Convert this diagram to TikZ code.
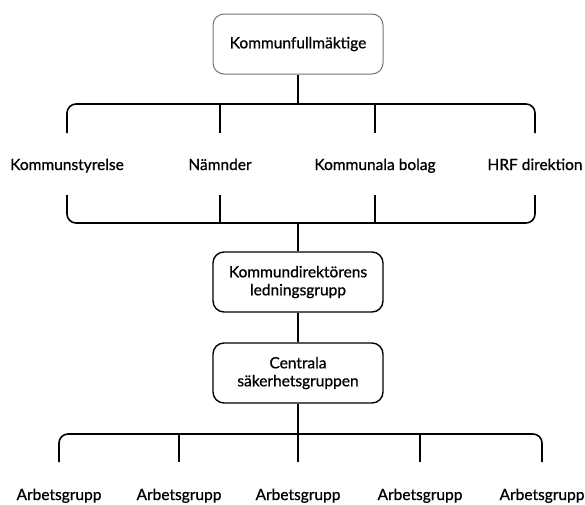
\documentclass[tikz,border=0pt]{standalone}
\usepackage{fontspec}
\setmainfont{Lato}[FakeBold=0.8,AutoFakeBold=0.8]

\begin{document}
\begin{tikzpicture}[x=1pt,y=-1pt,
        orgbox/.style={draw, line width=1.4pt, rounded corners=11pt, minimum width=170pt,
            minimum height=60pt, align=center, font=\fontsize{15.5}{18}\bfseries},
        orglabel/.style={inner sep=1pt, anchor=base, font=\fontsize{15.5}{18}\bfseries},
        bracket/.style={line width=1.6pt, rounded corners=9pt},
        link/.style={line width=1.6pt}]
    \useasboundingbox (0,0) rectangle (585,504);
    % boxes in the middle column
    \node[orgbox, draw=black!55, line width=1pt] (kf) at (298,44) {Kommunfullmäktige};
    \node[orgbox] (kl) at (298,282) {Kommundirektörens\\ledningsgrupp};
    \node[orgbox] (sg) at (298,373) {Centrala\\säkerhetsgruppen};
    % upper row
    \node[orglabel] (ks) at (67,170) {Kommunstyrelse};
    \node[orglabel] (nm) at (220,170) {Nämnder};
    \node[orglabel] (kb) at (375,170) {Kommunala bolag};
    \node[orglabel] (hrf) at (535,170) {HRF direktion};
    \coordinate (top) at (298,104);
    \coordinate (bot) at (298,223);
    \foreach \n in {ks,nm,kb,hrf}{
        \coordinate (\n-up) at ([yshift=37pt]\n.base);
        \coordinate (\n-dn) at ([yshift=-25pt]\n.base);
    }
    \draw[link] (kf) -- (top);
    \draw[bracket] (ks-up) |- (top) -| (hrf-up);
    \draw[link] (nm-up) -- (nm-up |- top);
    \draw[link] (kb-up) -- (kb-up |- top);
    \draw[bracket] (ks-dn) |- (bot) -| (hrf-dn);
    \draw[link] (nm-dn) -- (nm-dn |- bot);
    \draw[link] (kb-dn) -- (kb-dn |- bot);
    \draw[link] (bot) -- (kl);
    \draw[link] (kl) -- (sg);
    % working groups
    \coordinate (wg) at (298,434);
    \foreach \i/\x in {1/59,2/179,3/298,4/420,5/542}{
        \node[orglabel] (ag\i) at (\x,500) {Arbetsgrupp};
        \coordinate (ag\i-up) at ([yshift=38pt]ag\i.base);
    }
    \draw[link] (sg) -- (wg);
    \draw[bracket] (ag1-up) |- (wg) -| (ag5-up);
    \foreach \i in {2,3,4}
        \draw[link] (ag\i-up) -- (ag\i-up |- wg);
\end{tikzpicture}
\end{document}
